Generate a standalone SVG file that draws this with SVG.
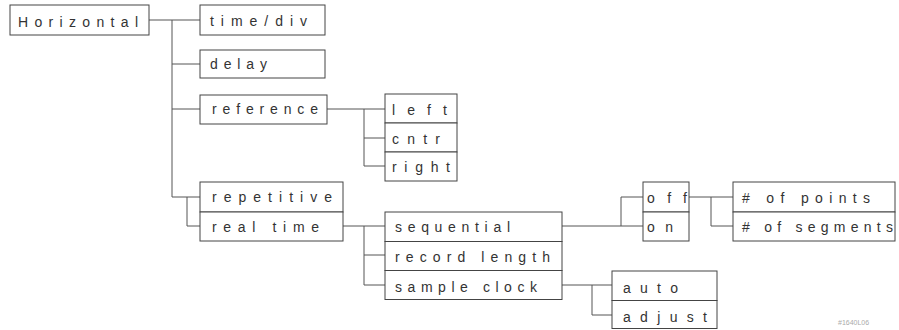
<svg xmlns="http://www.w3.org/2000/svg" width="899" height="330" viewBox="0 0 899 330">
<style>
  .box rect { fill: #ffffff; stroke: #444444; stroke-width: 1; }
  .box line { stroke: #444444; stroke-width: 1; }
  text { font-family: "Liberation Sans", "DejaVu Sans", sans-serif; font-size: 14px; fill: #333333; }
  .conn line, .conn polyline { stroke: #555555; stroke-width: 1; fill: none; }
  .tiny { font-size: 7px; fill: #aaaaaa; }
</style>
<rect x="0" y="0" width="899" height="330" fill="#ffffff"/>
<g id="connectors" class="conn">
  <line x1="149" y1="20" x2="200" y2="20"/>
  <line x1="172" y1="20" x2="172" y2="197"/>
  <line x1="172" y1="64" x2="200" y2="64"/>
  <line x1="172" y1="109" x2="200" y2="109"/>
  <line x1="172" y1="197" x2="200" y2="197"/>
  <polyline points="187,197 187,226 200,226"/>
  <line x1="327" y1="109" x2="385" y2="109"/>
  <line x1="364" y1="109" x2="364" y2="166"/>
  <line x1="364" y1="138" x2="385" y2="138"/>
  <line x1="364" y1="166" x2="385" y2="166"/>
  <line x1="343" y1="226" x2="385" y2="226"/>
  <line x1="364" y1="226" x2="364" y2="285"/>
  <line x1="364" y1="255" x2="385" y2="255"/>
  <line x1="364" y1="285" x2="385" y2="285"/>
  <line x1="562" y1="226" x2="643" y2="226"/>
  <polyline points="621,226 621,197 643,197"/>
  <line x1="689" y1="197" x2="733" y2="197"/>
  <polyline points="711,197 711,226 733,226"/>
  <line x1="562" y1="285" x2="612" y2="285"/>
  <polyline points="592,285 592,315 612,315"/>
</g>
<g id="n-horizontal" class="box">
  <rect x="10" y="5" width="139" height="30"/>
  <text x="18" y="27" textLength="120" lengthAdjust="spacing">Horizontal</text>
</g>
<g id="n-timediv" class="box">
  <rect x="200" y="5" width="125" height="30"/>
  <text x="210" y="26" textLength="97" lengthAdjust="spacing">time/div</text>
</g>
<g id="n-delay" class="box">
  <rect x="200" y="50" width="125" height="28"/>
  <text x="210" y="69" textLength="57" lengthAdjust="spacing">delay</text>
</g>
<g id="n-reference" class="box">
  <rect x="200" y="95" width="127" height="29"/>
  <text x="212" y="114" textLength="106" lengthAdjust="spacing">reference</text>
</g>
<g id="n-left" class="box">
  <rect x="385" y="94" width="72" height="29"/>
  <text x="392" y="115" textLength="55" lengthAdjust="spacing">left</text>
</g>
<g id="n-cntr" class="box">
  <rect x="385" y="123" width="72" height="29"/>
  <text x="392" y="144" textLength="48" lengthAdjust="spacing">cntr</text>
</g>
<g id="n-right" class="box">
  <rect x="385" y="152" width="72" height="29"/>
  <text x="392" y="172" textLength="58" lengthAdjust="spacing">right</text>
</g>
<g id="n-repetitive" class="box">
  <rect x="200" y="182" width="143" height="30"/>
  <text x="212" y="202" textLength="120" lengthAdjust="spacing">repetitive</text>
</g>
<g id="n-realtime" class="box">
  <rect x="200" y="212" width="143" height="29"/>
  <text x="212" y="232" textLength="107" lengthAdjust="spacing">real time</text>
</g>
<g id="n-sequential" class="box">
  <rect x="385" y="212" width="177" height="29.5"/>
  <text x="395" y="232" textLength="115" lengthAdjust="spacing">sequential</text>
</g>
<g id="n-recordlength" class="box">
  <rect x="385" y="241.5" width="177" height="29"/>
  <text x="395" y="262" textLength="155" lengthAdjust="spacing">record length</text>
</g>
<g id="n-sampleclock" class="box">
  <rect x="385" y="270.5" width="177" height="29"/>
  <text x="395" y="292" textLength="142" lengthAdjust="spacing">sample clock</text>
</g>
<g id="n-off" class="box">
  <rect x="643" y="182" width="46" height="30"/>
  <text x="647" y="203" textLength="40" lengthAdjust="spacing">off</text>
</g>
<g id="n-on" class="box">
  <rect x="643" y="212" width="46" height="29"/>
  <text x="647" y="232" textLength="26" lengthAdjust="spacing">on</text>
</g>
<g id="n-points" class="box">
  <rect x="733" y="182" width="162" height="30"/>
  <text x="742" y="203" textLength="128" lengthAdjust="spacing"># of points</text>
</g>
<g id="n-segments" class="box">
  <rect x="733" y="212" width="162" height="29"/>
  <text x="742" y="232" textLength="151" lengthAdjust="spacing"># of segments</text>
</g>
<g id="n-auto" class="box">
  <rect x="612" y="271" width="105" height="29.5"/>
  <text x="623" y="293" textLength="55" lengthAdjust="spacing">auto</text>
</g>
<g id="n-adjust" class="box">
  <rect x="612" y="300.5" width="105" height="28"/>
  <text x="623" y="322" textLength="84" lengthAdjust="spacing">adjust</text>
</g>
<text class="tiny" x="838" y="325">#1640L06</text>
</svg>
